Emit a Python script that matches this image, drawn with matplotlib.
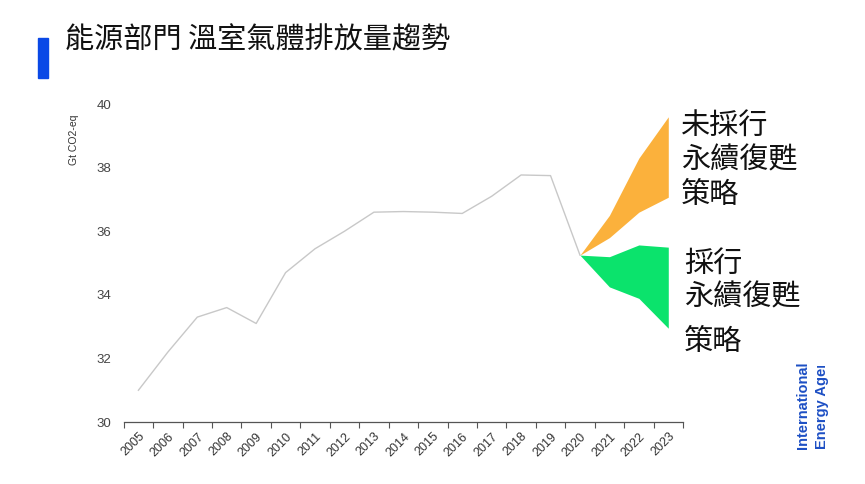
import numpy as np
import matplotlib
matplotlib.use("Agg")
from matplotlib import pyplot as plt
from matplotlib.patches import Rectangle

plt.rcParams['font.family'] = ['Noto Sans CJK TC', 'DejaVu Sans']

# 數據（Gt CO2-eq）
years = [str(y) for y in range(2005, 2024)]
history = [31.0, 32.2, 33.3, 33.6, 33.1, 34.7, 35.45, 36.0, 36.6, 36.62,
           36.6, 36.56, 37.1, 37.77, 37.75, 35.25]
no_policy_high = [35.25, 36.5, 38.3, 39.6]
no_policy_low = [35.25, 35.8, 36.6, 37.07]
policy_high = [35.25, 35.2, 35.57, 35.5]
policy_low = [35.25, 34.25, 33.89, 32.95]

fig = plt.figure(figsize=(8.65, 4.84), dpi=100)
ax = fig.add_axes([0.143, 0.128, 0.6466, 0.657])

x_hist = np.arange(len(history))
x_fan = np.arange(len(history) - 1, len(years))

ax.plot(x_hist, history, color='#c8c8c8', linewidth=1.0, zorder=2)
ax.fill_between(x_fan, no_policy_low, no_policy_high, color='#fbb13c', linewidth=0, zorder=3)
ax.fill_between(x_fan, policy_low, policy_high, color='#0be36c', linewidth=0, zorder=3)

ax.set_xlim(-0.5, len(years) - 0.5)
ax.set_ylim(30, 40)
ax.set_yticks([30, 32, 34, 36, 38, 40])
ax.set_xticks(np.arange(len(years)))
ax.set_xticklabels(years, rotation=45, ha='right', rotation_mode='anchor',
                   fontsize=9, color='#333333', family=['Liberation Sans', 'DejaVu Sans'])
ax.set_xticks(np.arange(len(years) + 1) - 0.5, minor=True)
ax.tick_params(axis='x', which='major', length=0, pad=6)
ax.tick_params(axis='x', which='minor', length=4, width=0.8, color='#555555')
ax.tick_params(axis='y', length=0, pad=9, labelsize=9.5, labelcolor='#444444')
for lab in ax.get_yticklabels():
    lab.set_family(['Liberation Sans', 'DejaVu Sans'])
for s in ['top', 'right', 'left']:
    ax.spines[s].set_visible(False)
ax.spines['bottom'].set_color('#555555')
ax.spines['bottom'].set_linewidth(0.9)

fig.text(0.085, 0.711, 'Gt CO2-eq', rotation=90, ha='center', va='center',
         fontsize=7.5, color='#333333', family=['Liberation Sans', 'DejaVu Sans'])

# 標題
fig.patches.append(Rectangle((38 / 865, 1 - 78 / 484), 10 / 865, 40 / 484,
                             transform=fig.transFigure, color='#0a48e6'))
fig.text(65 / 865, 1 - 40 / 484, '能源部門 溫室氣體排放量趨勢', ha='left', va='center',
         fontsize=21, color='#111111')

# 情境標示
def label(lines, ys, x):
    for t, y in zip(lines, ys):
        fig.text(x / 865, 1 - y / 484, t, ha='left', va='center', fontsize=21, color='#111111')

label(['未採行', '永續復甦', '策略'], [126, 160, 195], 681)
label(['採行', '永續復甦', '策略'], [264, 297, 342], 684)

# IEA 標誌（右上角被裁切）
fig.text(803 / 865, 1 - 449 / 484, 'International', rotation=90, ha='center', va='bottom',
         fontsize=10.5, fontweight='bold', color='#1d4fc4', family=['Liberation Sans', 'DejaVu Sans'])
fig.text(822 / 865, 1 - 449 / 484, 'Energy Agency', rotation=90, ha='center', va='bottom',
         fontsize=10.5, fontweight='bold', color='#1d4fc4', family=['Liberation Sans', 'DejaVu Sans'])
fig.add_artist(Rectangle((812 / 865, 1 - 366 / 484), 25 / 865, 50 / 484,
                         transform=fig.transFigure, facecolor='white', edgecolor='none', zorder=10))

fig.savefig('out.png', dpi=100)
